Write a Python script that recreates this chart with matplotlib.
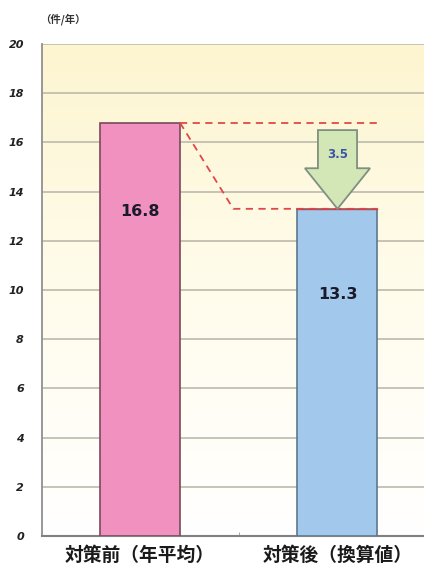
import matplotlib
matplotlib.use("Agg")
import matplotlib.pyplot as plt
import matplotlib.patches as mpatches
from matplotlib.colors import LinearSegmentedColormap
import numpy as np

plt.rcParams['font.family'] = ['Noto Sans CJK JP', 'DejaVu Sans']

# data
categories = ["対策前（年平均）", "対策後（換算値）"]
values = [16.8, 13.3]
reduction = 3.5
yticks = [0, 2, 4, 6, 8, 10, 12, 14, 16, 18, 20]
unit_label = "（件/年）"

bar_colors = ["#f191c0", "#a2c8ec"]
edge_colors = ["#7a4a5a", "#5c7890"]

fig = plt.figure(figsize=(4.24, 5.73), dpi=100)
ax = fig.add_axes([42 / 424, (573 - 536) / 573, (424 - 42) / 424, (536 - 44) / 573])

x = np.arange(len(categories))
xmin, xmax = -0.496, 1.438
ax.set_xlim(xmin, xmax)
ax.set_ylim(0, 20)

# background gradient: pale yellow at top fading to white
grad = np.linspace(0, 1, 256).reshape(-1, 1)
cmap = LinearSegmentedColormap.from_list("bg", ["#ffffff", "#fffcec", "#fdf5d0"])
ax.imshow(grad, extent=[xmin, xmax, 0, 20], origin="lower", aspect="auto",
          cmap=cmap, zorder=0)

for t in yticks[1:]:
    ax.axhline(t, color="#c2beb2", lw=1.3, zorder=1)

ax.bar(x, values, width=0.405, color=bar_colors, edgecolor=edge_colors,
       linewidth=1.2, zorder=3)

for xi, v in zip(x, values):
    ax.text(xi, v - 3.6 if xi == 0 else v - 3.5, f"{v}", ha="center", va="center",
            fontsize=11.5, fontweight="bold", color="#1a1a2a",
            family="DejaVu Sans", zorder=5)

# dashed guide lines
half = 0.405 / 2
ax.plot([x[0] + half, x[1] + half + 0.01], [values[0], values[0]],
        ls=(0, (4, 3)), color="#e04848", lw=1.3, zorder=4)
ax.plot([x[0] + half, x[0] + half + 0.27, x[1] + half],
        [values[0], values[1], values[1]],
        ls=(0, (4, 3)), color="#e04848", lw=1.3, zorder=4)
ax.plot([x[1] - half, x[1] + half], [values[1], values[1]],
        color="#d04040", lw=1.0, zorder=4)

# down arrow showing the reduction
top = values[0] - 0.3
head_base = values[1] + 1.65
sw = 0.099
hw = 0.165
arrow_pts = [
    (x[1] - sw, top), (x[1] + sw, top), (x[1] + sw, head_base),
    (x[1] + hw, head_base), (x[1], values[1]), (x[1] - hw, head_base),
    (x[1] - sw, head_base),
]
ax.add_patch(mpatches.Polygon(arrow_pts, closed=True, facecolor="#d3e6b6",
                              edgecolor="#7f9080", lw=1.3, zorder=5))
ax.text(x[1], values[0] - 1.3, f"{reduction}", ha="center", va="center",
        fontsize=8.5, fontweight="bold", color="#3a55a8",
        family="DejaVu Sans", zorder=6)

ax.set_yticks(yticks)
ax.set_yticklabels([str(t) for t in yticks], fontsize=8, fontweight="bold",
                   fontstyle="italic", color="#222222", family="DejaVu Sans")
ax.tick_params(axis="y", length=0, pad=13)

ax.set_xticks(x)
ax.set_xticklabels(categories, fontsize=13.5, fontweight="bold", color="#1a1a1a")
ax.set_xticks([0.5], minor=True)
ax.tick_params(axis="x", which="major", length=0, pad=7)
ax.tick_params(axis="x", which="minor", length=3, color="#999999", direction="in")

for s in ["top", "right"]:
    ax.spines[s].set_visible(False)
ax.spines["left"].set_color("#909090")
ax.spines["bottom"].set_color("#808080")
ax.spines["left"].set_linewidth(1.3)
ax.spines["bottom"].set_linewidth(1.5)

fig.text(40 / 424, 1 - 19 / 573, unit_label, fontsize=7.5, fontweight="bold",
         color="#333333", va="center", ha="left")

fig.savefig("out.png", dpi=100)
